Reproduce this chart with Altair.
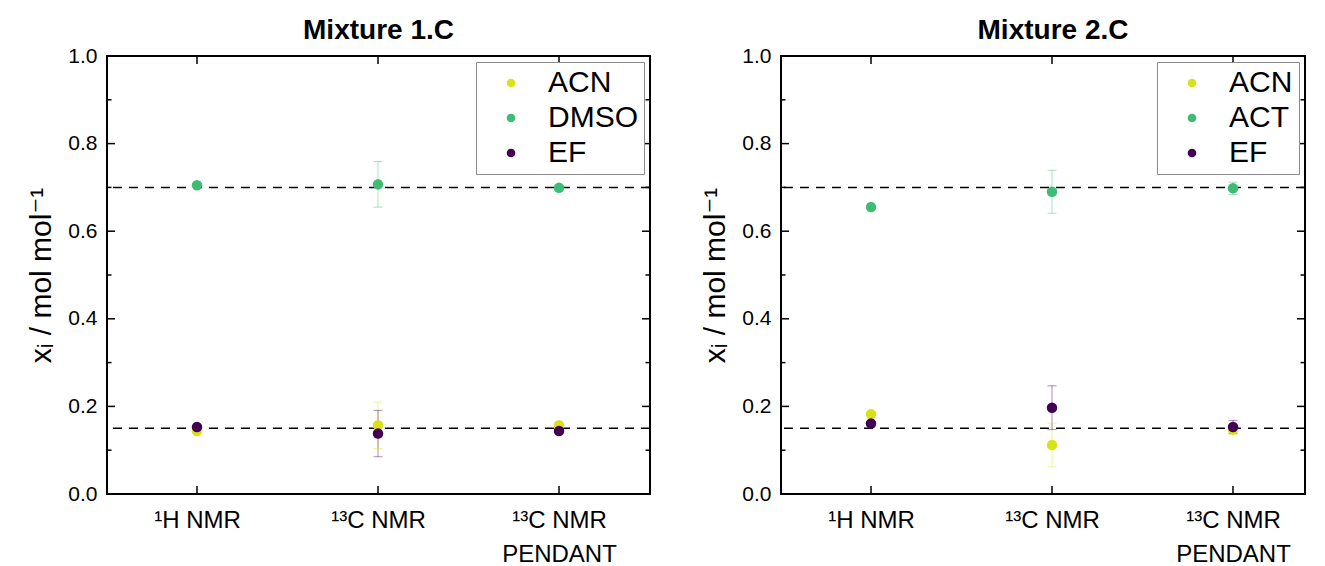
import altair as alt
import pandas as pd

# ---- data ----
methods = ["¹H NMR", "¹³C NMR", "¹³C NMR|PENDANT"]

m1_title = "Mixture 1.C"
m1_species = ["ACN", "DMSO", "EF"]
m1_acn = [0.144, 0.157, 0.157]
m1_acn_err = [0.004, 0.053, 0.005]
m1_dmso = [0.705, 0.707, 0.699]
m1_dmso_err = [0.003, 0.052, 0.004]
m1_ef = [0.153, 0.138, 0.144]
m1_ef_err = [0.003, 0.053, 0.005]

m2_title = "Mixture 2.C"
m2_species = ["ACN", "ACT", "EF"]
m2_acn = [0.182, 0.112, 0.147]
m2_acn_err = [0.003, 0.050, 0.012]
m2_act = [0.655, 0.690, 0.698]
m2_act_err = [0.003, 0.049, 0.014]
m2_ef = [0.161, 0.197, 0.153]
m2_ef_err = [0.003, 0.050, 0.015]

reference_levels = [0.7, 0.15]
y_major = [0.0, 0.2, 0.4, 0.6, 0.8, 1.0]
y_minor = [0.1, 0.3, 0.5, 0.7, 0.9]
colors = ["#d8e219", "#3dbc74", "#440154"]

H = 438
FONT = "Liberation Sans, Arial, DejaVu Sans"


def panel(title, species, series, errs, W, title_dx=0):
    rows = []
    for s, vals, es in zip(species, series, errs):
        for m, v, e in zip(methods, vals, es):
            rows.append({"method": m, "species": s, "value": v, "lo": v - e, "hi": v + e})
    df = pd.DataFrame(rows)

    xscale = alt.Scale(type="point", domain=methods, range=[90, 452], padding=0)
    xaxis = alt.Axis(title=None, labelExpr="split(datum.label, '|')", ticks=False,
                     domain=False, grid=False, labelAngle=0, labelPadding=14,
                     labelLineHeight=34, labelFontSize=24, labelColor="black",
                     labelFont=FONT, labelBaseline="top")
    yscale = alt.Scale(domain=[0, 1], nice=False, zero=False)
    yaxis = alt.Axis(title="xᵢ / mol mol⁻¹", values=y_major, format=".1f", ticks=False,
                     domain=False, grid=False, labelPadding=10, labelFontSize=21,
                     labelColor="black", labelFont=FONT, titleFont=FONT,
                     titleFontSize=30, titleFontWeight="normal", titleColor="black",
                     titlePadding=11)

    def X(field="method"):
        return alt.X(f"{field}:N", scale=xscale, axis=xaxis, sort=methods)

    def Y(field="value"):
        return alt.Y(f"{field}:Q", scale=yscale, axis=yaxis)

    cscale = alt.Scale(domain=species, range=colors)
    legend = alt.Legend(title=None, orient="top-right", offset=6,
                        symbolType="circle", symbolSize=75,
                        labelFontSize=30, labelFont=FONT,
                        labelColor="black", padding=6,
                        rowPadding=5, symbolOffset=14,
                        labelOffset=22, strokeColor="#8c8c8c",
                        fillColor="white", symbolStrokeWidth=0, symbolOpacity=1)
    col = alt.Color("species:N", scale=cscale, sort=species, legend=legend)

    refs = alt.Chart(pd.DataFrame({"value": reference_levels})).mark_rule(
        color="black", strokeDash=[9, 7], strokeWidth=1.5).encode(y=Y())

    maj = pd.DataFrame({"value": y_major})
    mino = pd.DataFrame({"value": y_minor})
    tl = alt.Chart(maj).mark_rule(color="black", strokeWidth=1.5).encode(
        y=Y(), x=alt.value(0), x2=alt.value(8))
    tr = alt.Chart(maj).mark_rule(color="black", strokeWidth=1.5).encode(
        y=Y(), x=alt.value(W), x2=alt.value(W - 8))
    tlm = alt.Chart(mino).mark_rule(color="black", strokeWidth=1.5).encode(
        y=Y(), x=alt.value(0), x2=alt.value(4.5))
    trm = alt.Chart(mino).mark_rule(color="black", strokeWidth=1.5).encode(
        y=Y(), x=alt.value(W), x2=alt.value(W - 4.5))
    mdf = pd.DataFrame({"method": methods})
    tb = alt.Chart(mdf).mark_rule(color="black", strokeWidth=1.5).encode(
        x=X(), y=alt.value(H), y2=alt.value(H - 8))
    tt = alt.Chart(mdf).mark_rule(color="black", strokeWidth=1.5).encode(
        x=X(), y=alt.value(0), y2=alt.value(8))

    base = alt.Chart(df)
    err = base.mark_rule(strokeWidth=1, opacity=0.45).encode(
        x=X(), y=Y("lo"), y2="hi:Q", color=col)
    cap_lo = base.mark_tick(orient="horizontal", size=9, thickness=1, opacity=0.45).encode(
        x=X(), y=Y("lo"), color=col)
    cap_hi = base.mark_tick(orient="horizontal", size=9, thickness=1, opacity=0.45).encode(
        x=X(), y=Y("hi"), color=col)
    pts = base.mark_circle(size=110, opacity=1).encode(x=X(), y=Y(), color=col)

    return alt.layer(refs, tl, tr, tlm, trm, tb, tt, err, cap_lo, cap_hi, pts).properties(
        width=W, height=H,
        title=alt.TitleParams(title, fontSize=28, font=FONT, fontWeight="bold",
                              color="black", offset=0, anchor="middle", dx=title_dx))


p1 = panel(m1_title, m1_species, [m1_acn, m1_dmso, m1_ef], [m1_acn_err, m1_dmso_err, m1_ef_err], 543)
p2 = panel(m2_title, m2_species, [m2_acn, m2_act, m2_ef], [m2_acn_err, m2_act_err, m2_ef_err], 524, 10)

chart = alt.hconcat(p1, p2, spacing=47).resolve_scale(color="independent").properties(
    padding={"left": 17, "top": 8, "right": 1, "bottom": 5}
).configure_view(stroke="black", strokeWidth=2)

chart.save("out.html", embed_options={"renderer": "svg", "actions": False})
